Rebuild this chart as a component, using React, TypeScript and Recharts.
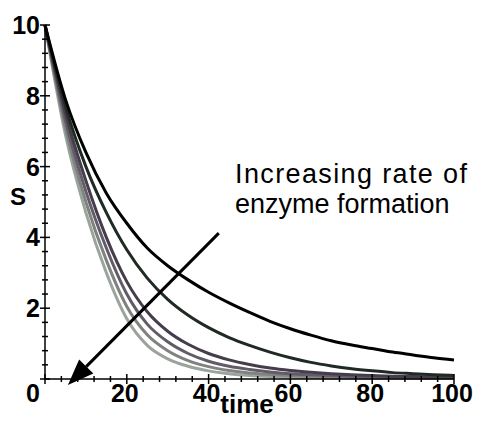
import React from 'react';
import { LineChart, Line, XAxis, YAxis, ReferenceLine } from 'recharts';

const TIME = [0, 5, 10, 15, 20, 25, 30, 35, 40, 45, 50, 55, 60, 65, 70, 75, 80, 85, 90, 95, 100];

// substrate S for increasing rate of enzyme formation (slowest first)
const S1 = [10, 7.9, 6.4, 5.25, 4.4, 3.7, 3.2, 2.8, 2.45, 2.15, 1.88, 1.63, 1.42, 1.24, 1.08, 0.96, 0.86, 0.76, 0.68, 0.6, 0.54];
const S2 = [10, 7.7, 6.0, 4.7, 3.65, 2.85, 2.25, 1.8, 1.45, 1.17, 0.95, 0.76, 0.6, 0.47, 0.37, 0.29, 0.23, 0.18, 0.15, 0.12, 0.1];
const S3 = [10, 7.5, 5.6, 4.0, 2.75, 1.9, 1.35, 0.98, 0.72, 0.54, 0.41, 0.31, 0.24, 0.19, 0.15, 0.12, 0.1, 0.08, 0.07, 0.06, 0.05];
const S4 = [10, 7.3, 5.3, 3.7, 2.4, 1.55, 1.05, 0.72, 0.5, 0.36, 0.27, 0.2, 0.15, 0.12, 0.1, 0.08, 0.07, 0.06, 0.05, 0.04, 0.04];
const S5 = [10, 7.1, 5.0, 3.35, 2.05, 1.25, 0.8, 0.52, 0.35, 0.24, 0.17, 0.13, 0.1, 0.08, 0.06, 0.05, 0.04, 0.04, 0.03, 0.03, 0.03];
const S6 = [10, 6.9, 4.7, 3.0, 1.7, 0.95, 0.57, 0.36, 0.23, 0.15, 0.1, 0.07, 0.05, 0.04, 0.03, 0.03, 0.02, 0.02, 0.02, 0.02, 0.02];

const SERIES = [
  { key: 's6', values: S6, color: '#9aa39c' },
  { key: 's5', values: S5, color: '#80827f' },
  { key: 's4', values: S4, color: '#625b68' },
  { key: 's3', values: S3, color: '#463d4c' },
  { key: 's2', values: S2, color: '#1e2a22' },
  { key: 's1', values: S1, color: '#000000' },
];

const X_LABELS = [0, 20, 40, 60, 80, 100];
const Y_LABELS = [2, 4, 6, 8, 10];

const ARROW_FROM = { x: 42.5, y: 4.12 };
const ARROW_TO = { x: 5.6, y: -0.17 };

const data = TIME.map((t, i) => {
  const row: Record<string, number> = { t };
  SERIES.forEach((s) => (row[s.key] = s.values[i]));
  return row;
});

// minor tick positions
const xTicks: number[] = [];
for (let i = 0; i <= 25; i++) xTicks.push(i * 4);
const yTicks: number[] = [];
for (let i = 0; i <= 25; i++) yTicks.push(Math.round(i * 4) / 10);

const FONT = '"Liberation Sans", Arial, sans-serif';

const XTick = (props: any) => {
  const { x, y, payload } = props;
  const v = payload.value;
  const major = X_LABELS.includes(v);
  const len = major ? 5 : 3;
  return (
    <g>
      <line x1={x} x2={x} y1={y - len} y2={y + len} stroke="#000" strokeWidth={1.5} />
      {major && (
        <text
          x={v === 0 ? x - 5 : x - 2}
          y={y + 23}
          textAnchor={v === 0 ? 'end' : 'middle'}
          fontFamily={FONT}
          fontWeight="bold"
          fontSize={25}
          fill="#000"
        >
          {v}
        </text>
      )}
    </g>
  );
};

const YTick = (props: any) => {
  const { x, y, payload } = props;
  const v = payload.value;
  const major = Math.abs(v - Math.round(v)) < 1e-6 && Math.round(v) % 2 === 0;
  const len = major ? 5 : 3;
  return (
    <g>
      <line x1={x - len} x2={x + len} y1={y} y2={y} stroke="#000" strokeWidth={1.5} />
      {major && Y_LABELS.includes(Math.round(v)) && (
        <text x={x - 5} y={y + 9} textAnchor="end" fontFamily={FONT} fontWeight="bold" fontSize={25} fill="#000">
          {Math.round(v)}
        </text>
      )}
    </g>
  );
};

const Arrow = (props: any) => {
  const { x1, y1, x2, y2 } = props;
  const dx = x2 - x1;
  const dy = y2 - y1;
  const len = Math.sqrt(dx * dx + dy * dy);
  const ux = dx / len;
  const uy = dy / len;
  const head = 26;
  const half = 10;
  const bx = x2 - ux * head;
  const by = y2 - uy * head;
  const px = -uy;
  const py = ux;
  return (
    <g>
      <line x1={x1} y1={y1} x2={bx} y2={by} stroke="#000" strokeWidth={3} />
      <polygon
        points={`${x2},${y2} ${bx + px * half},${by + py * half} ${bx - px * half},${by - py * half}`}
        fill="#000"
      />
    </g>
  );
};

export default function App() {
  return (
    <div style={{ position: 'absolute', left: 0, top: 0, width: 481, height: 422, background: '#fff' }}>
      <LineChart width={481} height={422} data={data} margin={{ top: 25, right: 27, bottom: 0, left: 0 }}>
        <XAxis
          dataKey="t"
          type="number"
          domain={[0, 100]}
          ticks={xTicks}
          interval={0}
          tick={<XTick />}
          tickLine={false}
          tickSize={0}
          tickMargin={0}
          height={43}
          axisLine={{ stroke: '#000', strokeWidth: 1.5 }}
        />
        <YAxis
          type="number"
          domain={[0, 10]}
          ticks={yTicks}
          interval={0}
          tick={<YTick />}
          tickLine={false}
          tickSize={0}
          tickMargin={0}
          width={45}
          axisLine={{ stroke: '#000', strokeWidth: 1.5 }}
        />
        {SERIES.map((s) => (
          <Line
            key={s.key}
            dataKey={s.key}
            type="monotone"
            stroke={s.color}
            strokeWidth={3}
            dot={false}
            isAnimationActive={false}
          />
        ))}
        <ReferenceLine segment={[ARROW_FROM, ARROW_TO]} ifOverflow="visible" shape={<Arrow />} />
      </LineChart>
      <svg
        width={481}
        height={422}
        style={{ position: 'absolute', left: 0, top: 0, pointerEvents: 'none' }}
      >
        <text x={18} y={205} textAnchor="middle" fontFamily={FONT} fontWeight="bold" fontSize={24} fill="#000">
          S
        </text>
        <text x={247} y={413} textAnchor="middle" fontFamily={FONT} fontWeight="bold" fontSize={26} fill="#000">
          time
        </text>
        <text x={235} y={183} fontFamily={FONT} fontSize={27} fill="#000" textLength={232} lengthAdjust="spacing">
          Increasing rate of
        </text>
        <text x={235} y={213} fontFamily={FONT} fontSize={27} fill="#000">
          enzyme formation
        </text>
      </svg>
    </div>
  );
}
